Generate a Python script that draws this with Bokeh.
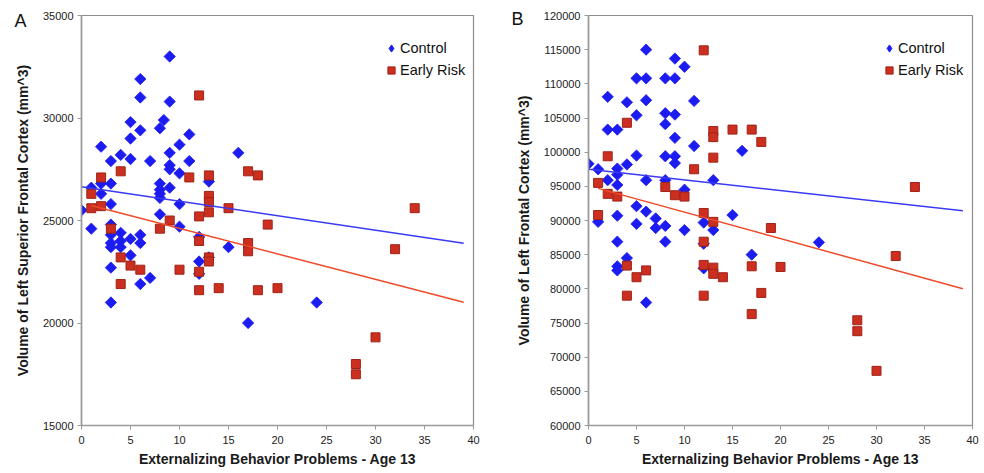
import math
from bokeh.plotting import figure
from bokeh.models import (Range1d, FixedTicker, Legend, LegendItem,
                          BasicTickFormatter, LinearAxis)
from bokeh.layouts import row
from bokeh.embed import file_html
from bokeh.resources import INLINE

# ---------------- data ----------------
x_ticks = [0, 5, 10, 15, 20, 25, 30, 35, 40]
a_y_ticks = [15000, 20000, 25000, 30000, 35000]
b_y_ticks = [60000, 65000, 70000, 75000, 80000, 85000, 90000, 95000,
             100000, 105000, 110000, 115000, 120000]

series_names = ["Control", "Early Risk"]
panel_letters = ["A", "B"]
x_label = "Externalizing Behavior Problems - Age 13"
a_y_label = "Volume of Left Superior Frontal Cortex (mm^3)"
b_y_label = "Volume of Left Frontal Cortex (mm^3)"

# Panel A - Control
a_ctrl_x = [0, 1, 1, 2, 2, 2, 3, 3, 3, 3, 3, 3, 3, 3, 3, 4, 4, 4, 4, 5, 5, 5, 5, 5,
            6, 6, 6, 6, 6, 6, 7, 7, 8, 8.4, 8, 8, 8, 8, 8, 9, 9, 9, 9, 9, 9,
            10, 10, 10, 10, 11, 11, 12, 12, 12, 13, 13, 15, 16, 17, 24]
a_ctrl_y = [25500, 26600, 24600, 28600, 26800, 26300, 27900, 26800, 25800, 24800,
            24300, 23900, 23700, 22700, 21000, 28200, 24400, 24000, 23700,
            29800, 29000, 28000, 24100, 23300, 31900, 31000, 29400, 24300, 23900,
            21900, 27900, 22200, 29500, 29900, 26800, 26500, 26300, 26100, 25300,
            33000, 30800, 28300, 27700, 27500, 26600, 28700, 27300, 25800, 24700,
            29200, 27900, 24200, 23000, 22400, 26900, 23200, 23700, 28300, 20000, 21000]
# Panel A - Early Risk
a_risk_x = [1, 1, 2, 2, 3, 4, 4, 4, 5, 6, 8, 9, 10, 11, 12, 12, 12, 12, 12,
            13, 13, 13, 13, 13, 13, 14, 15, 17, 17, 17, 18, 18, 19, 20, 28, 28, 30, 32, 34]
a_risk_y = [26300, 25600, 27100, 25700, 24600, 27400, 23200, 21900, 22800, 22600,
            24600, 25000, 22600, 27100, 31100, 25200, 24000, 22500, 21600,
            27200, 26200, 25900, 25400, 23200, 23000, 21700, 25600, 27400, 23900,
            23500, 27200, 21600, 24800, 21700, 18000, 17500, 19300, 23600, 25600]
# Panel A trend lines (end points)
a_trend_ctrl_x = [0, 39]
a_trend_ctrl_y = [26650, 23890]
a_trend_risk_x = [1, 39]
a_trend_risk_y = [25730, 21010]

# Panel B - Control
b_ctrl_x = [0, 1, 1, 2, 2, 2, 3, 3, 3, 3, 3, 3, 3, 3, 4, 4, 4, 5, 5, 5, 5, 5,
            6, 6, 6, 6, 6, 6, 7, 7, 8, 8, 8, 8, 8, 8, 8, 9, 9, 9, 9, 9, 9,
            10, 10, 10, 11, 11, 12, 12, 12, 13, 13, 15, 16, 17, 24]
b_ctrl_y = [98300, 97500, 89800, 108100, 103300, 95900, 103300, 97600, 96700, 95200,
            90700, 86900, 83300, 82700, 107300, 98200, 84500, 110800, 105400, 99500,
            92100, 89500, 115000, 110800, 107600, 95900, 91300, 78000, 90300, 88900,
            110800, 105700, 104100, 99400, 95900, 89200, 86900, 113700, 110800, 105500,
            102100, 99400, 98400, 112500, 94500, 88600, 107500, 100900, 89700, 86600,
            83000, 95900, 88600, 90800, 100200, 85000, 86800]
# Panel B - Early Risk
b_risk_x = [1, 1, 2, 2, 3, 4, 4, 4, 5, 6, 8, 9, 10, 11, 12, 12, 12, 12, 12,
            13, 13, 13, 13, 13, 13, 14, 15, 17, 17, 17, 18, 18, 19, 20, 28, 28, 30, 32, 34]
b_risk_y = [95500, 90800, 99400, 93900, 93500, 104300, 83400, 79000, 81700, 82700,
            94900, 93700, 93500, 97500, 114900, 91100, 86900, 83500, 79000,
            103100, 102200, 99200, 89800, 83100, 82200, 81700, 103300, 103300, 83300,
            76300, 101500, 79400, 88900, 83200, 75400, 73800, 68000, 84800, 94900]
b_trend_ctrl_x = [0, 39]
b_trend_ctrl_y = [97500, 91430]
b_trend_risk_x = [1, 39]
b_trend_risk_y = [94700, 80000]

# ---------------- styling ----------------
FONT = "Liberation Sans"
BLUE = "#1c1cf0"
RED_FILL = "#cc2e1f"
RED_LINE = "#9e2418"
BLUE_LINE = "#3a3af5"
RED_TREND = "#ee4b2b"
AXIS_GRAY = "#9a9a9a"


def make_panel(cx, cy, rx, ry, tcx, tcy, trx, try_, y_ticks, y_label, letter,
               letter_at, letter_shift, width, left, right, legend_x):
    p = figure(width=width, height=473, output_backend="svg", toolbar_location=None,
               x_range=Range1d(0, 40), y_range=Range1d(y_ticks[0], y_ticks[-1]),
               min_border_left=left, min_border_right=right,
               min_border_top=15, min_border_bottom=48)
    p.grid.visible = False
    p.background_fill_color = "white"
    p.border_fill_color = "white"
    p.outline_line_color = "#8c8c8c"
    p.outline_line_width = 1.2

    for ax in (p.xaxis[0], p.yaxis[0]):
        ax.axis_line_color = AXIS_GRAY
        ax.axis_line_width = 1.6
        ax.major_tick_line_color = AXIS_GRAY
        ax.major_tick_out = 4
        ax.major_tick_in = 0
        ax.minor_tick_line_color = None
        ax.major_label_text_font = FONT
        ax.major_label_text_font_size = "11px"
        ax.major_label_text_color = "#222222"
        ax.major_label_standoff = 4
        ax.axis_label_text_font = FONT
        ax.axis_label_text_font_size = "14px"
        ax.axis_label_text_font_style = "bold"
        ax.axis_label_text_color = "#1a1a1a"
    p.xaxis[0].ticker = FixedTicker(ticks=x_ticks)
    p.xaxis[0].major_label_standoff = 6
    p.yaxis[0].ticker = FixedTicker(ticks=y_ticks)
    p.yaxis[0].formatter = BasicTickFormatter(use_scientific=False)
    p.xaxis[0].axis_label = x_label
    p.xaxis[0].axis_label_standoff = 4
    p.yaxis[0].axis_label = y_label
    p.yaxis[0].axis_label_standoff = 9

    # panel letter: an extra left axis that carries a single labelled tick
    ax_l = LinearAxis(ticker=FixedTicker(ticks=[letter_at]),
                      major_label_overrides={letter_at: letter},
                      axis_line_color=None, major_tick_line_color=None,
                      minor_tick_line_color=None, major_tick_out=0, major_tick_in=0,
                      major_label_standoff=letter_shift,
                      major_label_text_font=FONT, major_label_text_font_size="18px",
                      major_label_text_color="#111111")
    p.add_layout(ax_l, "left")

    # legend swatch for the diamond series (hidden copy of the series)
    rc_key = p.scatter(cx, cy, marker="diamond", fill_color=BLUE, line_color=BLUE,
                       visible=False)
    rc = p.scatter(cx, cy, marker="square", size=8, angle=math.pi / 4,
                   fill_color=BLUE, line_color=BLUE, line_width=0.8)
    rr = p.scatter(rx, ry, marker="square", size=9,
                   fill_color=RED_FILL, line_color=RED_LINE, line_width=1)
    p.line(tcx, tcy, line_color=BLUE_LINE, line_width=1.5)
    p.line(trx, try_, line_color=RED_TREND, line_width=1.5)

    legend = Legend(items=[LegendItem(label=series_names[0], renderers=[rc_key]),
                           LegendItem(label=series_names[1], renderers=[rr])],
                    location=(legend_x, 345), orientation="vertical",
                    border_line_color=None, background_fill_alpha=0,
                    inactive_fill_alpha=0,
                    padding=0, margin=0, spacing=2,
                    glyph_width=18, glyph_height=18, label_height=20,
                    label_standoff=0, label_text_font=FONT,
                    label_text_font_size="14.5px", label_text_color="#111111")
    p.add_layout(legend)
    return p


pa = make_panel(a_ctrl_x, a_ctrl_y, a_risk_x, a_risk_y,
                a_trend_ctrl_x, a_trend_ctrl_y, a_trend_risk_x, a_trend_risk_y,
                a_y_ticks, a_y_label, panel_letters[0], 34750, -15,
                490, 81, 17, 301)
pb = make_panel(b_ctrl_x, b_ctrl_y, b_risk_x, b_risk_y,
                b_trend_ctrl_x, b_trend_ctrl_y, b_trend_risk_x, b_trend_risk_y,
                b_y_ticks, b_y_label, panel_letters[1], 119460, -11,
                494, 98, 12, 292)

layout = row(pa, pb)
open("out.html", "w").write(file_html(layout, INLINE))
